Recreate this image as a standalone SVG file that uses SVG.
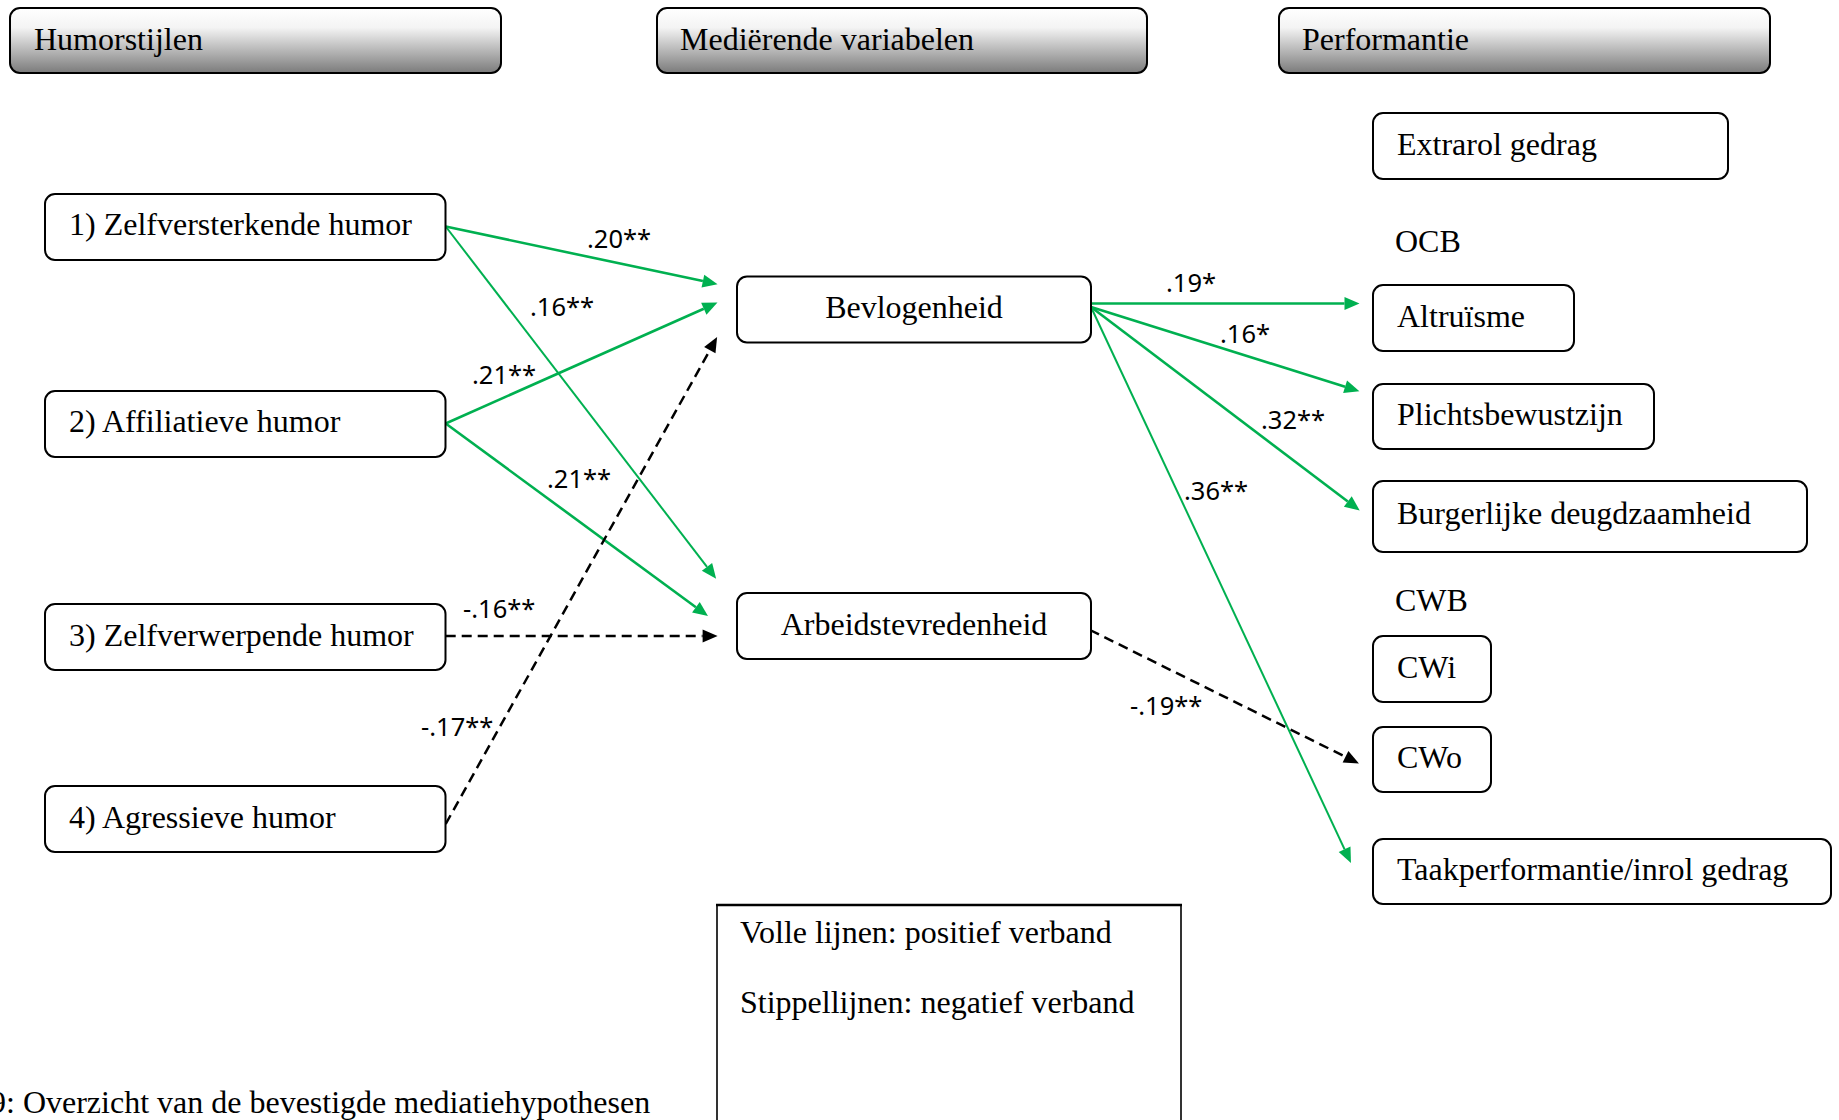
<svg xmlns="http://www.w3.org/2000/svg" width="1839" height="1120" viewBox="0 0 1839 1120">
  <defs>
    <linearGradient id="hdrFill" x1="0" y1="0" x2="0" y2="1">
      <stop offset="0" stop-color="#ffffff"/>
      <stop offset="0.3" stop-color="#f4f4f4"/>
      <stop offset="1" stop-color="#7b7b7b"/>
    </linearGradient>
    <marker id="headGreen" markerUnits="userSpaceOnUse" markerWidth="15" markerHeight="13" refX="0" refY="6.5" orient="auto" overflow="visible">
      <path d="M0,0 L15,6.5 L0,13 z" fill="#00b050"/>
    </marker>
    <marker id="headBlack" markerUnits="userSpaceOnUse" markerWidth="15" markerHeight="13" refX="0" refY="6.5" orient="auto" overflow="visible">
      <path d="M0,0 L15,6.5 L0,13 z" fill="#000000"/>
    </marker>
  </defs>
  <style>
    .hdr { fill: url(#hdrFill); stroke: #000; stroke-width: 2; }
    .box { fill: #fff; stroke: #000; stroke-width: 2; }
    .txt { font-family: "Liberation Serif", "Times New Roman", serif; font-size: 32px; fill: #000; }
    .mid { text-anchor: middle; }
    .coef { font-family: "Noto Sans", "Open Sans", sans-serif; font-size: 25.5px; fill: #000; }
    .pos { fill: none; stroke: #00b050; stroke-width: 2.6; marker-end: url(#headGreen); }
    .pos.thin { stroke-width: 2; }
    .neg { fill: none; stroke: #000; stroke-width: 2.5; stroke-dasharray: 10 6; marker-end: url(#headBlack); }
  </style>
  <rect width="1839" height="1120" fill="#fff"/>

  <!-- column headers -->
  <g id="hdr-humorstijlen">
    <rect class="hdr" x="10" y="8" width="491" height="65" rx="10"/>
    <text class="txt" x="34" y="50">Humorstijlen</text>
  </g>
  <g id="hdr-mediatoren">
    <rect class="hdr" x="657" y="8" width="490" height="65" rx="10"/>
    <text class="txt" x="680" y="50">Mediërende variabelen</text>
  </g>
  <g id="hdr-performantie">
    <rect class="hdr" x="1279" y="8" width="491" height="65" rx="10"/>
    <text class="txt" x="1302" y="50">Performantie</text>
  </g>

  <!-- connectors -->
  <g id="connectors">
    <path class="pos" d="M445.7,226.5 L702.9,281.1"/>
    <path class="pos thin" d="M445.7,226.5 L707.0,566.9"/>
    <path class="pos" d="M445.7,423.5 L703.8,308.7"/>
    <path class="pos" d="M445.7,423.5 L695.9,607.2"/>
    <path class="neg" d="M445.7,636 L702.6,636"/>
    <path class="neg" d="M445.7,824 L709.8,350.2"/>
    <path class="pos" d="M1091,303.5 L1344.5,303.5"/>
    <path class="pos" d="M1091,307 L1345.1,386.8"/>
    <path class="pos" d="M1091,307 L1347.8,501.5"/>
    <path class="pos thin" d="M1091,307 L1344.6,849.3"/>
    <path class="neg" d="M1090,630 L1345.5,756.8"/>

    <text class="coef" x="587" y="248">.20**</text>
    <text class="coef" x="530" y="316">.16**</text>
    <text class="coef" x="472" y="384">.21**</text>
    <text class="coef" x="547" y="488">.21**</text>
    <text class="coef" x="463" y="618">-.16**</text>
    <text class="coef" x="421" y="736">-.17**</text>
    <text class="coef" x="1166" y="292">.19*</text>
    <text class="coef" x="1220" y="343">.16*</text>
    <text class="coef" x="1261" y="429">.32**</text>
    <text class="coef" x="1184" y="500">.36**</text>
    <text class="coef" x="1130" y="715">-.19**</text>
  </g>

  <!-- humour styles -->
  <g id="node-zelfversterkend">
    <rect class="box" x="45" y="194" width="400.5" height="66" rx="10"/>
    <text class="txt" x="69" y="235">1) Zelfversterkende humor</text>
  </g>
  <g id="node-affiliatief">
    <rect class="box" x="45" y="391" width="400.5" height="66" rx="10"/>
    <text class="txt" x="69" y="432">2) Affiliatieve humor</text>
  </g>
  <g id="node-zelfverwerpend">
    <rect class="box" x="45" y="604" width="400.5" height="66" rx="10"/>
    <text class="txt" x="69" y="646">3) Zelfverwerpende humor</text>
  </g>
  <g id="node-agressief">
    <rect class="box" x="45" y="786" width="400.5" height="66" rx="10"/>
    <text class="txt" x="69" y="828">4) Agressieve humor</text>
  </g>

  <!-- mediators -->
  <g id="node-bevlogenheid">
    <rect class="box" x="737" y="276.5" width="354" height="66" rx="10"/>
    <text class="txt mid" x="914" y="318">Bevlogenheid</text>
  </g>
  <g id="node-arbeidstevredenheid">
    <rect class="box" x="737" y="593" width="354" height="66" rx="10"/>
    <text class="txt mid" x="914" y="635">Arbeidstevredenheid</text>
  </g>

  <!-- performance outcomes -->
  <g id="node-extrarol">
    <rect class="box" x="1373" y="113" width="355" height="66" rx="10"/>
    <text class="txt" x="1397" y="155">Extrarol gedrag</text>
  </g>
  <text class="txt" x="1395" y="252">OCB</text>
  <g id="node-altruisme">
    <rect class="box" x="1373" y="285" width="201" height="66" rx="10"/>
    <text class="txt" x="1397" y="327">Altruïsme</text>
  </g>
  <g id="node-plichtsbewustzijn">
    <rect class="box" x="1373" y="384" width="281" height="65" rx="10"/>
    <text class="txt" x="1397" y="425">Plichtsbewustzijn</text>
  </g>
  <g id="node-burgerlijke-deugdzaamheid">
    <rect class="box" x="1373" y="481" width="434" height="71" rx="10"/>
    <text class="txt" x="1397" y="524">Burgerlijke deugdzaamheid</text>
  </g>
  <text class="txt" x="1395" y="611">CWB</text>
  <g id="node-cwi">
    <rect class="box" x="1373" y="636" width="118" height="66" rx="10"/>
    <text class="txt" x="1397" y="678">CWi</text>
  </g>
  <g id="node-cwo">
    <rect class="box" x="1373" y="727" width="118" height="65" rx="10"/>
    <text class="txt" x="1397" y="768">CWo</text>
  </g>
  <g id="node-taakperformantie">
    <rect class="box" x="1373" y="839" width="458" height="65" rx="10"/>
    <text class="txt" x="1397" y="880">Taakperformantie/inrol gedrag</text>
  </g>

  <!-- legend -->
  <g id="legend">
    <rect x="717" y="905" width="464" height="240" fill="#fff" stroke="#000" stroke-width="1.6"/>
    <line x1="716" y1="905" x2="1182" y2="905" stroke="#000" stroke-width="2.4"/>
    <text class="txt" x="740" y="943">Volle lijnen: positief verband</text>
    <text class="txt" x="740" y="1013">Stippellijnen: negatief verband</text>
  </g>

  <!-- caption, running off the left edge -->
  <text class="txt" x="-10" y="1113">9: Overzicht van de bevestigde mediatiehypothesen</text>
</svg>
